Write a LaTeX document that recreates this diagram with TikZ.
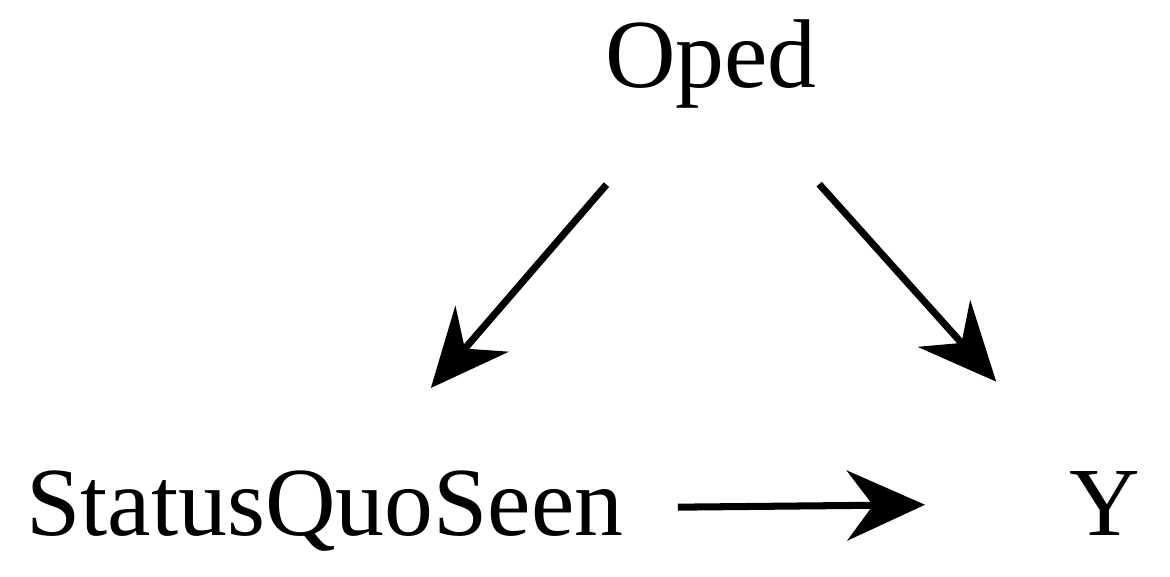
\documentclass[tikz,border=0pt]{standalone}
\usepackage{fontspec}
\setmainfont{Liberation Serif}
\usetikzlibrary{arrows.meta}

\tikzset{var/.style={inner sep=0pt, anchor=base, font=\fontsize{27.8}{33}\selectfont},
  dagarrow/.style={-{Stealth[length=7.8mm,width=7mm,inset=2.6mm]}, line width=2pt}}

\begin{document}
\begin{tikzpicture}
\useasboundingbox (0,0) rectangle (11.7,5.76);
\node [var] (oped) at (7.11,4.89) {Oped};
\node [var] (sqs) at (3.25,0.41) {StatusQuoSeen};
\node [var] (y) at (11.05,0.41) {Y};
\draw [dagarrow] [shorten <=1.6cm, shorten >=1.62cm] (oped.center) -- (sqs.center);
\draw [dagarrow] [shorten <=1.62cm, shorten >=1.63cm] (oped.center) -- (y.center);
\draw [dagarrow] [shorten <=3.53cm, shorten >=1.8cm] (sqs.center) -- (y.center);
\end{tikzpicture}
\end{document}
